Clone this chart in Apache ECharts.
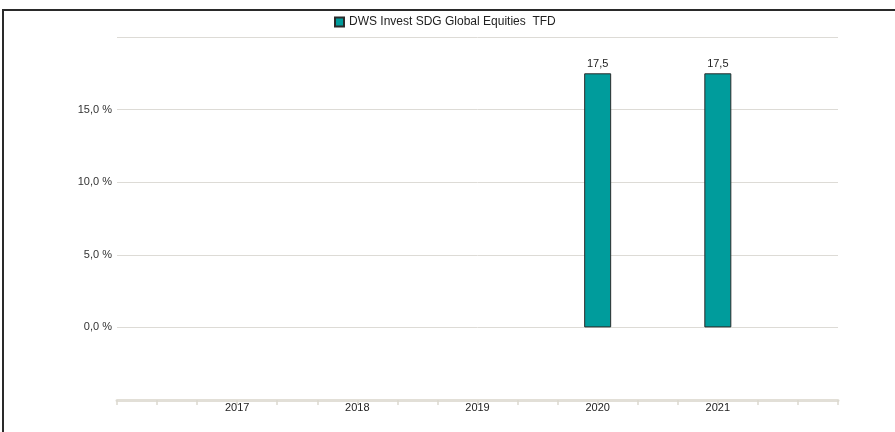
<!DOCTYPE html>
<html>
<head>
<meta charset="utf-8">
<script src="https://cdn.jsdelivr.net/npm/echarts@6/dist/echarts.min.js"></script>
<style>
html,body{margin:0;padding:0;background:#fff;}
#frame{position:absolute;left:2px;top:9px;width:893px;height:423px;border-top:2px solid #2a2a2a;border-left:2px solid #2a2a2a;box-sizing:border-box;}
#chart{position:absolute;left:0;top:0;width:895px;height:432px;}
</style>
</head>
<body>
<div id="frame"></div>
<div id="chart"></div>
<script>
const seriesName = 'DWS Invest SDG Global Equities  TFD';
const years = [2017, 2018, 2019, 2020, 2021];
const values = [null, null, null, 17.5, 17.5];
const yTicks = [0, 5, 10, 15];

const chart = echarts.init(document.getElementById('chart'));
const fmt = v => v.toFixed(1).replace('.', ',');
chart.setOption({
  animation: false,
  textStyle: {fontFamily: 'Liberation Sans, Arial, sans-serif'},
  legend: {
    top: 11, left: 329,
    itemWidth: 9, itemHeight: 9, icon: 'rect',
    textStyle: {fontSize: 12, color: '#222'},
    data: [seriesName]
  },
  grid: {left: 117, right: 57, top: 37, bottom: 32, containLabel: false},
  xAxis: {
    type: 'value', min: years[0] - 1, max: years[years.length - 1] + 1, interval: 1,
    axisLine: {show: true, onZero: false, lineStyle: {color: '#e2dfd7', width: 3}},
    axisTick: {show: true, length: 5, lineStyle: {color: '#dcd9d0', width: 1.5}},
    minorTick: {show: true, splitNumber: 3, length: 5, lineStyle: {color: '#dcd9d0', width: 1.5}},
    splitLine: {show: false},
    axisLabel: {
      margin: 2, fontSize: 11, color: '#222',
      formatter: v => years.indexOf(v) >= 0 ? String(v) : ''
    }
  },
  yAxis: {
    type: 'value', min: -5, max: 20, interval: 5,
    axisLine: {show: false}, axisTick: {show: false},
    splitLine: {show: true, lineStyle: {color: '#dddbd6', width: 1}},
    axisLabel: {
      margin: 5, fontSize: 11, color: '#333',
      formatter: v => yTicks.indexOf(v) >= 0 ? fmt(v) + ' %' : ''
    }
  },
  series: [{
    name: seriesName, type: 'bar', barWidth: 27,
    itemStyle: {color: '#009c9c', borderColor: '#2b2b2b', borderWidth: 1},
    label: {show: true, position: 'top', distance: 4, fontSize: 11, color: '#222',
      formatter: p => fmt(p.value[1])},
    data: years.map((y, i) => values[i] == null ? null : [y, values[i]]).filter(d => d)
  }]
});
</script>
</body>
</html>
